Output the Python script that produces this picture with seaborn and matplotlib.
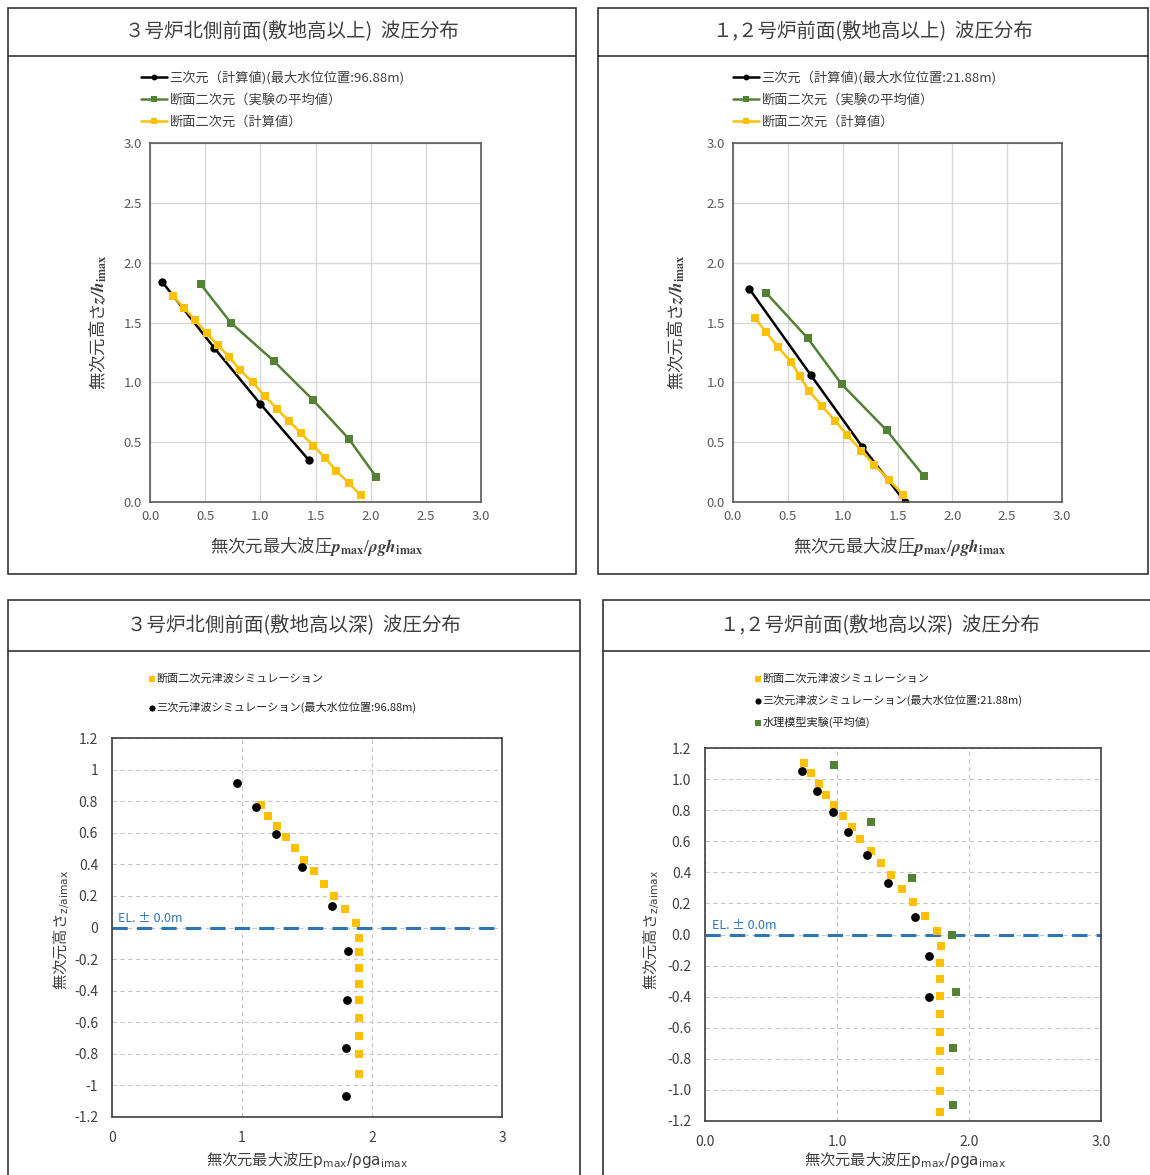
import matplotlib
matplotlib.use("Agg")
import matplotlib.pyplot as plt
import seaborn as sns
from matplotlib.patches import Rectangle
from matplotlib.lines import Line2D

sns.set_theme(style="white")
plt.rcParams['font.family'] = ['Noto Sans CJK JP', 'DejaVu Sans']

# 3号炉北側前面(敷地高以上)
tl_black_x = [0.11, 0.58, 1.00, 1.44]
tl_black_y = [1.84, 1.29, 0.82, 0.35]
tl_green_x = [0.46, 0.73, 1.12, 1.48, 1.80, 2.05]
tl_green_y = [1.82, 1.50, 1.18, 0.85, 0.53, 0.21]
tl_yellow_x = [0.21, 0.31, 0.41, 0.515, 0.615, 0.72, 0.82, 0.93, 1.04, 1.15, 1.26, 1.37, 1.48, 1.59, 1.69, 1.80, 1.91]
tl_yellow_y = [1.72, 1.62, 1.52, 1.41, 1.31, 1.21, 1.10, 1.00, 0.885, 0.78, 0.675, 0.575, 0.47, 0.365, 0.26, 0.16, 0.055]

# 1,2号炉前面(敷地高以上)
tr_black_x = [0.15, 0.71, 1.18, 1.57]
tr_black_y = [1.78, 1.06, 0.46, 0.0]
tr_green_x = [0.30, 0.68, 0.99, 1.40, 1.74]
tr_green_y = [1.75, 1.37, 0.985, 0.60, 0.217]
tr_yellow_x = [0.20, 0.30, 0.41, 0.53, 0.61, 0.69, 0.81, 0.93, 1.04, 1.17, 1.29, 1.42, 1.55]
tr_yellow_y = [1.54, 1.42, 1.295, 1.17, 1.05, 0.93, 0.805, 0.68, 0.56, 0.43, 0.31, 0.186, 0.062]

# 3号炉北側前面(敷地高以深)
bl_yellow_x = [1.145, 1.20, 1.27, 1.34, 1.41, 1.48, 1.555, 1.63, 1.71, 1.79, 1.88,
               1.90, 1.90, 1.90, 1.90, 1.90, 1.90, 1.90, 1.90, 1.90]
bl_yellow_y = [0.774, 0.708, 0.643, 0.575, 0.502, 0.43, 0.355, 0.278, 0.20, 0.116, 0.027,
               -0.064, -0.158, -0.256, -0.357, -0.462, -0.575, -0.687, -0.804, -0.926]
bl_black_x = [0.96, 1.105, 1.26, 1.46, 1.695, 1.815, 1.805, 1.80, 1.80]
bl_black_y = [0.917, 0.764, 0.594, 0.383, 0.135, -0.149, -0.456, -0.760, -1.066]

# 1,2号炉前面(敷地高以深)
br_yellow_x = [0.75, 0.806, 0.862, 0.92, 0.978, 1.044, 1.11, 1.176, 1.256, 1.33, 1.41, 1.496, 1.578,
               1.668, 1.757, 1.787, 1.784, 1.784, 1.782, 1.779, 1.779, 1.779, 1.779, 1.779, 1.779]
br_yellow_y = [1.105, 1.036, 0.969, 0.90, 0.836, 0.762, 0.69, 0.617, 0.54, 0.462, 0.38, 0.295, 0.21,
               0.117, 0.024, -0.074, -0.181, -0.286, -0.398, -0.512, -0.629, -0.752, -0.881, -1.01, -1.145]
br_black_x = [0.737, 0.849, 0.97, 1.086, 1.224, 1.39, 1.594, 1.70, 1.694]
br_black_y = [1.055, 0.921, 0.79, 0.657, 0.51, 0.329, 0.112, -0.136, -0.40]
br_green_x = [0.975, 1.26, 1.567, 1.869, 1.898, 1.882, 1.882]
br_green_y = [1.09, 0.726, 0.362, -0.002, -0.367, -0.733, -1.098]

titles = ['３号炉北側前面(敷地高以上)  波圧分布', '１,２号炉前面(敷地高以上)  波圧分布',
          '３号炉北側前面(敷地高以深)  波圧分布', '１,２号炉前面(敷地高以深)  波圧分布']
leg_top = ['三次元（計算値)(最大水位位置:96.88m)', '断面二次元（実験の平均値）', '断面二次元（計算値）']
leg_top2 = ['三次元（計算値)(最大水位位置:21.88m)', '断面二次元（実験の平均値）', '断面二次元（計算値）']
leg_bl = ['断面二次元津波シミュレーション', '三次元津波シミュレーション(最大水位位置:96.88m)']
leg_br = ['断面二次元津波シミュレーション', '三次元津波シミュレーション(最大水位位置:21.88m)', '水理模型実験(平均値)']

BLACK = '#000000'
GREEN = '#548235'
YELLOW = '#FFC000'
BLUE = '#2E75B6'
TXT = '#404040'

W, H = 1150, 1175
fig = plt.figure(figsize=(W / 100, H / 100), dpi=100)


def fx(px):
    return px / W


def fy(py):
    return 1 - py / H


def box(x0, y0, x1, y1, sep):
    fig.add_artist(Rectangle((fx(x0), fy(y1)), (x1 - x0) / W, (y1 - y0) / H, transform=fig.transFigure,
                             fill=False, ec='#333333', lw=1.2))
    fig.add_artist(Line2D([fx(x0), fx(x1)], [fy(sep), fy(sep)], transform=fig.transFigure,
                          color='#333333', lw=1.2))


def make_ax(x0, y0, x1, y1):
    return fig.add_axes([fx(x0), fy(y1), (x1 - x0) / W, (y1 - y0) / H])


# panel frames and titles
box(8, 8, 576, 574, 56)
box(598, 8, 1148, 574, 56)
box(8, 600, 580, 1200, 651)
box(603, 600, 1160, 1200, 651)
fig.text(fx(292), fy(32), titles[0], ha='center', va='center', fontsize=14, color=TXT)
fig.text(fx(873), fy(32), titles[1], ha='center', va='center', fontsize=14, color=TXT)
fig.text(fx(294), fy(626), titles[2], ha='center', va='center', fontsize=14, color=TXT)
fig.text(fx(880), fy(626), titles[3], ha='center', va='center', fontsize=14, color=TXT)


def style_top(ax):
    ax.set_xlim(0, 3)
    ax.set_ylim(0, 3)
    ticks = [0, 0.5, 1.0, 1.5, 2.0, 2.5, 3.0]
    ax.set_xticks(ticks)
    ax.set_yticks(ticks)
    ax.set_xticklabels([f'{t:.1f}' for t in ticks])
    ax.set_yticklabels([f'{t:.1f}' for t in ticks])
    ax.grid(True, color='#d9d9d9', lw=1, ls='-')
    ax.tick_params(length=0, labelsize=9.5, labelcolor='#595959', pad=6)
    for s in ax.spines.values():
        s.set_color('#595959')
        s.set_linewidth(1.2)
    ax.set_xlabel('')
    ax.set_ylabel('')


def style_bottom(ax, fmt):
    ax.set_xlim(0, 3)
    ax.set_ylim(-1.2, 1.2)
    xt = [0, 1, 2, 3]
    yt = [1.2, 1.0, 0.8, 0.6, 0.4, 0.2, 0.0, -0.2, -0.4, -0.6, -0.8, -1.0, -1.2]
    ax.set_xticks(xt)
    ax.set_yticks(yt)
    if fmt == 'g':
        ax.set_xticklabels([f'{t:g}' for t in xt])
        ax.set_yticklabels([f'{t:g}' for t in yt])
    else:
        ax.set_xticklabels([f'{t:.1f}' for t in xt])
        ax.set_yticklabels([f'{t:.1f}' for t in yt])
    ax.grid(True, color='#c8c8c8', lw=0.8, ls=(0, (4, 3)))
    ax.tick_params(length=0, labelsize=10, labelcolor='#404040', pad=10)
    for s in ax.spines.values():
        s.set_color('#404040')
        s.set_linewidth(1.2)
    ax.axhline(0, color=BLUE, lw=2.2, ls=(0, (5, 3)), zorder=2)
    ax.text(0.05, 0.015, 'EL. ± 0.0m', color=BLUE, fontsize=9, va='bottom')
    ax.set_xlabel('')
    ax.set_ylabel('')


top_xlabel = r'無次元最大波圧$\mathbfit{p}_{\mathbf{max}}/\mathbfit{\rho g h}_{\mathbf{imax}}$'
top_ylabel = r'無次元高さ$\mathbfit{z/h}_{\mathbf{imax}}$'
bot_xlabel = r'無次元最大波圧$\mathsf{p_{max}/\rho g a_{imax}}$'
bot_ylabel = r'無次元高さ$\mathsf{_{z/aimax}}$'

top_leg_kw = dict(frameon=False, fontsize=9.5, handlelength=2.0, handletextpad=0.2, labelspacing=0.7,
                  borderpad=0, labelcolor='#404040', markerscale=0.7, bbox_transform=fig.transFigure,
                  loc='upper left')

# ---- top-left
ax1 = make_ax(150, 143, 481, 502)
sns.lineplot(x=tl_black_x, y=tl_black_y, ax=ax1, color=BLACK, marker='o', markersize=6, lw=1.8,
             sort=False, label=leg_top[0], markeredgewidth=0)
sns.lineplot(x=tl_green_x, y=tl_green_y, ax=ax1, color=GREEN, marker='s', markersize=6, lw=1.8,
             sort=False, label=leg_top[1], markeredgewidth=0)
sns.lineplot(x=tl_yellow_x, y=tl_yellow_y, ax=ax1, color=YELLOW, marker='s', markersize=6, lw=1.8,
             sort=False, label=leg_top[2], markeredgewidth=0)
style_top(ax1)
ax1.legend(bbox_to_anchor=(fx(134), fy(64)), **top_leg_kw)
fig.text(fx(317), fy(547), top_xlabel, ha='center', va='center', fontsize=12.5, color=TXT,
         math_fontfamily='stix')
fig.text(fx(98), fy(322), top_ylabel, ha='center', va='center', fontsize=12.5, color=TXT,
         rotation=90, math_fontfamily='stix')

# ---- top-right
ax2 = make_ax(733, 143, 1062, 502)
sns.lineplot(x=tr_black_x, y=tr_black_y, ax=ax2, color=BLACK, marker='o', markersize=6, lw=1.8,
             sort=False, label=leg_top2[0], markeredgewidth=0)
sns.lineplot(x=tr_green_x, y=tr_green_y, ax=ax2, color=GREEN, marker='s', markersize=6, lw=1.8,
             sort=False, label=leg_top2[1], markeredgewidth=0)
sns.lineplot(x=tr_yellow_x, y=tr_yellow_y, ax=ax2, color=YELLOW, marker='s', markersize=6, lw=1.8,
             sort=False, label=leg_top2[2], markeredgewidth=0)
style_top(ax2)
ax2.legend(bbox_to_anchor=(fx(726), fy(64)), **top_leg_kw)
fig.text(fx(900), fy(547), top_xlabel, ha='center', va='center', fontsize=12.5, color=TXT,
         math_fontfamily='stix')
fig.text(fx(676), fy(322), top_ylabel, ha='center', va='center', fontsize=12.5, color=TXT,
         rotation=90, math_fontfamily='stix')

# ---- bottom-left
ax3 = make_ax(112, 738, 502, 1117)
sns.scatterplot(x=bl_yellow_x, y=bl_yellow_y, ax=ax3, color=YELLOW, marker='s', s=40, linewidth=0,
                label=leg_bl[0], zorder=3)
sns.scatterplot(x=bl_black_x, y=bl_black_y, ax=ax3, color=BLACK, marker='o', s=40, linewidth=0,
                label=leg_bl[1], zorder=4)
style_bottom(ax3, 'g')
ax3.legend(loc='upper left', bbox_to_anchor=(fx(143), fy(668)), bbox_transform=fig.transFigure,
           frameon=False, fontsize=8, handlelength=0.6, handletextpad=0.1, labelspacing=1.6,
           borderpad=0, labelcolor='#262626', markerscale=0.7)
fig.text(fx(307), fy(1160), bot_xlabel, ha='center', va='center', fontsize=11, color=TXT,
         math_fontfamily='dejavusans')
fig.text(fx(62), fy(930), bot_ylabel, ha='center', va='center', fontsize=11, color=TXT,
         rotation=90, math_fontfamily='dejavusans')

# ---- bottom-right
ax4 = make_ax(705, 748, 1101, 1121)
sns.scatterplot(x=br_yellow_x, y=br_yellow_y, ax=ax4, color=YELLOW, marker='s', s=40, linewidth=0,
                label=leg_br[0], zorder=3)
sns.scatterplot(x=br_black_x, y=br_black_y, ax=ax4, color=BLACK, marker='o', s=40, linewidth=0,
                label=leg_br[1], zorder=4)
sns.scatterplot(x=br_green_x, y=br_green_y, ax=ax4, color=GREEN, marker='s', s=40, linewidth=0,
                label=leg_br[2], zorder=4)
style_bottom(ax4, 'f')
ax4.legend(loc='upper left', bbox_to_anchor=(fx(749), fy(668)), bbox_transform=fig.transFigure,
           frameon=False, fontsize=8, handlelength=0.6, handletextpad=0.1, labelspacing=0.95,
           borderpad=0, labelcolor='#262626', markerscale=0.7)
fig.text(fx(905), fy(1160), bot_xlabel, ha='center', va='center', fontsize=11, color=TXT,
         math_fontfamily='dejavusans')
fig.text(fx(652), fy(930), bot_ylabel, ha='center', va='center', fontsize=11, color=TXT,
         rotation=90, math_fontfamily='dejavusans')

fig.savefig('out.png', dpi=100, facecolor='white')
